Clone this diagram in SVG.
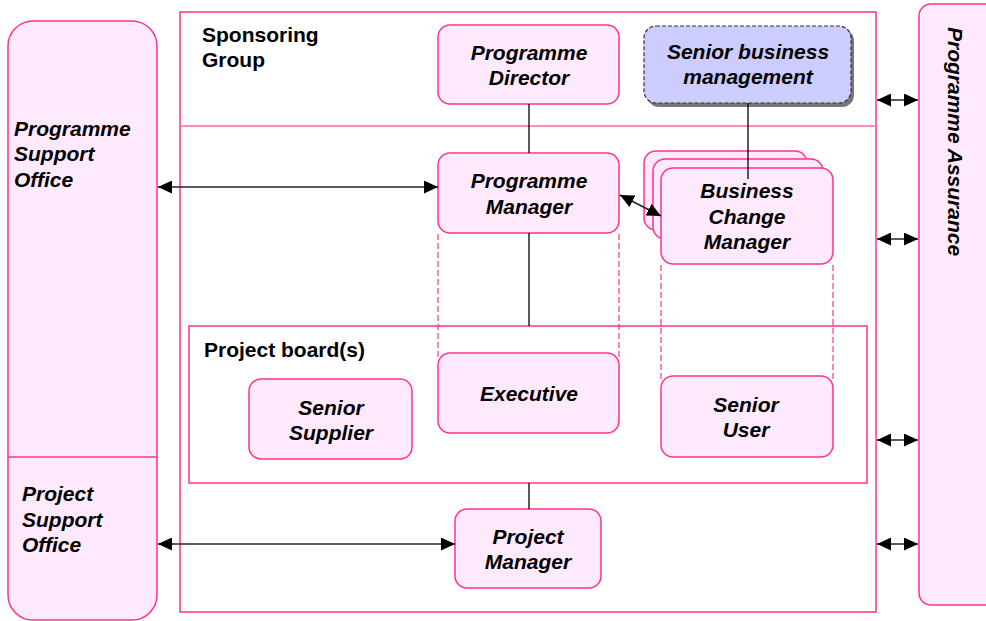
<svg xmlns="http://www.w3.org/2000/svg" width="986" height="621" viewBox="0 0 986 621">
<style>
.box{fill:#ffeafd;stroke:#ff3388;stroke-width:1.5}
.frame{fill:none;stroke:#ff3388;stroke-width:1.5}
.t{font-family:"Liberation Sans",Arial,sans-serif;font-size:21px;font-weight:bold;font-style:italic;fill:#000;text-anchor:middle}
.l{font-family:"Liberation Sans",Arial,sans-serif;font-size:21px;font-weight:bold;fill:#000}
.li{font-family:"Liberation Sans",Arial,sans-serif;font-size:21px;font-weight:bold;font-style:italic;fill:#000}
.c{fill:none;stroke:#000;stroke-width:1.3}
.ca{fill:none;stroke:#222;stroke-width:1.5;marker-start:url(#ah);marker-end:url(#ah)}
.d{fill:none;stroke:#ff3388;stroke-width:1.2;stroke-dasharray:6 3}
</style>
<defs>
<marker id="ah" viewBox="0 0 14 13" refX="14" refY="6.5" markerWidth="14" markerHeight="13" markerUnits="userSpaceOnUse" orient="auto-start-reverse">
<path d="M0,0 L14,6.5 L0,13 z" fill="#000"/>
</marker>
</defs>
<rect width="986" height="621" fill="#fff"/>

<g id="programme-support-office">
<rect class="box" x="8" y="21" width="149" height="599" rx="25"/>
<line x1="8" y1="457" x2="157" y2="457" stroke="#ff3388" stroke-width="1.5"/>
<text class="li" x="14" y="136">Programme</text>
<text class="li" x="14" y="161">Support</text>
<text class="li" x="14" y="187">Office</text>
</g>
<g id="project-support-office">
<text class="li" x="22" y="501">Project</text>
<text class="li" x="22" y="527">Support</text>
<text class="li" x="22" y="552">Office</text>
</g>

<g id="sponsoring-group">
<rect class="frame" x="180" y="12" width="696" height="600"/>
<line x1="180" y1="126" x2="876" y2="126" stroke="#ff66aa" stroke-width="1.5"/>
<text class="l" x="202" y="42">Sponsoring</text>
<text class="l" x="202" y="67">Group</text>
</g>

<g id="programme-assurance">
<rect class="box" x="919" y="4" width="100" height="601" rx="12"/>
<text class="li" transform="translate(948,27) rotate(90)">Programme Assurance</text>
</g>

<g id="project-board">
<rect class="frame" x="189" y="326" width="678" height="157"/>
<text class="l" x="204" y="357">Project board(s)</text>
</g>

<g id="programme-director">
<rect class="box" x="438" y="25" width="181" height="79" rx="12"/>
<text class="t" x="529" y="60">Programme</text>
<text class="t" x="529" y="85">Director</text>
</g>

<g id="senior-business-management">
<rect x="647" y="29" width="207" height="78" rx="12" fill="#777"/>
<rect x="644" y="26" width="207" height="77" rx="12" fill="#ccccff" stroke="#333" stroke-width="1.2" stroke-dasharray="4 2"/>
<text class="t" x="748" y="59">Senior business</text>
<text class="t" x="748" y="84">management</text>
</g>

<g id="programme-manager">
<rect class="box" x="438" y="153" width="181" height="80" rx="12"/>
<text class="t" x="529" y="188">Programme</text>
<text class="t" x="529" y="214">Manager</text>
</g>

<g id="business-change-manager">
<rect class="box" x="644" y="151" width="163" height="79" rx="12"/>
<rect class="box" x="653" y="159" width="170" height="80" rx="12"/>
<rect class="box" x="661" y="168" width="172" height="96" rx="12"/>
<text class="t" x="747" y="198">Business</text>
<text class="t" x="747" y="224">Change</text>
<text class="t" x="747" y="249">Manager</text>
</g>

<g id="senior-supplier">
<rect class="box" x="249" y="379" width="163" height="80" rx="12"/>
<text class="t" x="331" y="415">Senior</text>
<text class="t" x="331" y="440">Supplier</text>
</g>

<g id="executive">
<rect class="box" x="438" y="353" width="181" height="80" rx="12"/>
<text class="t" x="529" y="401">Executive</text>
</g>

<g id="senior-user">
<rect class="box" x="661" y="376" width="172" height="81" rx="12"/>
<text class="t" x="746" y="412">Senior</text>
<text class="t" x="746" y="437">User</text>
</g>

<g id="project-manager">
<rect class="box" x="455" y="509" width="146" height="79" rx="12"/>
<text class="t" x="528" y="544">Project</text>
<text class="t" x="528" y="569">Manager</text>
</g>

<g id="connectors">
<line class="c" x1="529" y1="104" x2="529" y2="153"/>
<line class="c" x1="529" y1="233" x2="529" y2="326"/>
<line class="c" x1="529" y1="483" x2="529" y2="509"/>
<line class="c" x1="748" y1="103" x2="748" y2="179"/>
<line class="d" x1="438" y1="234" x2="438" y2="360"/>
<line class="d" x1="619" y1="234" x2="619" y2="360"/>
<line class="d" x1="661" y1="265" x2="661" y2="382"/>
<line class="d" x1="833" y1="265" x2="833" y2="382"/>
<line class="ca" x1="158" y1="187" x2="438" y2="187"/>
<line class="ca" x1="158" y1="544" x2="455" y2="544"/>
<line class="ca" x1="620" y1="195" x2="661" y2="216"/>
<line class="ca" x1="877" y1="100" x2="918" y2="100"/>
<line class="ca" x1="877" y1="239" x2="918" y2="239"/>
<line class="ca" x1="877" y1="440" x2="918" y2="440"/>
<line class="ca" x1="877" y1="544" x2="918" y2="544"/>
</g>
</svg>
